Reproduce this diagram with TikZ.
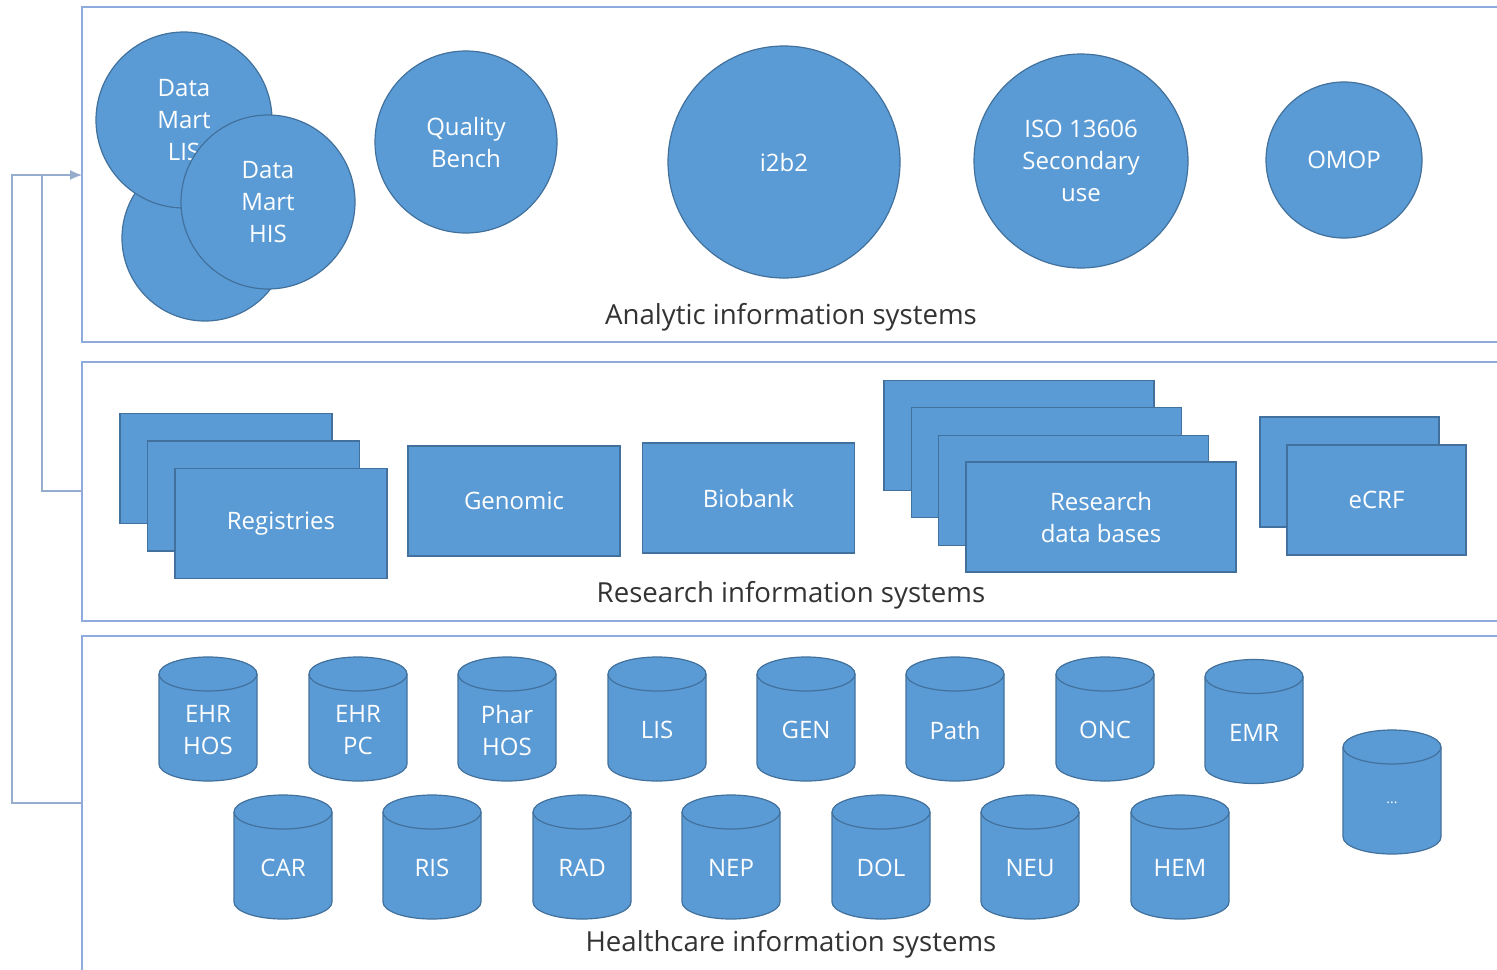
\documentclass[tikz,border=0pt]{standalone}
\usepackage{fontspec}
\setmainfont{Open Sans}
\usetikzlibrary{shapes.geometric,arrows.meta,positioning}
\definecolor{boxblue}{RGB}{91,155,213}
\definecolor{boxedge}{RGB}{65,113,156}
\definecolor{panelline}{RGB}{143,170,220}
\definecolor{linkline}{RGB}{150,172,205}
\tikzset{
  shape base/.style={fill=boxblue, draw=boxedge, line width=0.6pt, text=white,
    align=center, inner sep=0pt, font=\fontsize{12}{16}\selectfont},
  dbcirc/.style={shape base, circle},
  dbrect/.style={shape base, rectangle, minimum width=106pt, minimum height=55pt},
  cylline/.style={fill=boxblue, draw=boxedge, line width=0.6pt},
  cyllabel/.style={text=white, align=center, inner sep=0pt,
    font=\fontsize{12}{16}\selectfont},
  panel/.style={draw=panelline, line width=0.7pt, anchor=north west,
    inner sep=0pt, outer sep=0pt, minimum width=714pt},
  paneltitle/.style={text=black!80, font=\fontsize{13.8}{16}\selectfont},
  link/.style={draw=linkline, line width=0.6pt}
}
% database drum: name, x, y (centre), label
\newcommand{\dbdrum}[4]{%
  \filldraw[cylline] (#2-49,#3-45) -- (#2-49,#3+45)
    arc[start angle=180, end angle=0, x radius=49, y radius=17]
    -- (#2+49,#3-45)
    arc[start angle=0, end angle=-180, x radius=49, y radius=17] -- cycle;
  \draw[cylline, fill=none] (#2-49,#3-45)
    arc[start angle=180, end angle=0, x radius=49, y radius=17];
  \node[cyllabel] (#1) at (#2,#3+11) {#4};
}
\begin{document}
\begin{tikzpicture}[x=0.5pt,y=-0.5pt]
  \useasboundingbox[fill=white] (0,0) rectangle (1497,969);
  % the three layers
  \node[panel, minimum height=167.5pt] (aislayer) at (82,7) {};
  \node[panel, minimum height=129.5pt] (rislayer) at (82,362) {};
  \node[panel, minimum height=174.5pt] (hcislayer) at (82,636) {};
  \node[paneltitle] (aistitle) at (791,317) {Analytic information systems};
  \node[paneltitle] (ristitle) at (791,595) {Research information systems};
  \node[paneltitle] (hcistitle) at (791,944) {Healthcare information systems};

  % analytic information systems
  \node[dbcirc, minimum size=83pt] (dmback) at (205,238) {};
  \node[dbcirc, minimum size=88pt] (dmlis) at (184,120) {Data\\Mart\\LIS};
  \node[dbcirc, minimum size=87pt] (dmhis) at (268,202) {Data\\Mart\\HIS};
  \node[dbcirc, minimum size=91pt] (qbench) at (466,142) {Quality\\Bench};
  \node[dbcirc, minimum size=116pt] (itwob) at (784,162) {i2b2};
  \node[dbcirc, minimum size=107pt] (iso) at (1081,161) {ISO 13606\\Secondary\\use};
  \node[dbcirc, minimum size=78pt] (omop) at (1344,160) {OMOP};

  % research information systems
  \foreach \i in {0,1}
    \node[dbrect] (reg\i) at ({226+27.5*\i},{468.5+27.5*\i}) {};
  \node[dbrect] (reg2) at (281,523.5) {Registries};
  \node[dbrect] (genomic) at (514,501) {Genomic};
  \node[dbrect] (biobank) at (748.5,498) {Biobank};
  \foreach \i in {0,1,2}
    \node[dbrect, minimum width=135pt] (rdb\i) at ({1019+27.3*\i},{435.5+27.3*\i}) {};
  \node[dbrect, minimum width=135pt] (rdb3) at (1101,517) {Research\\data bases};
  \node[dbrect, minimum width=89.5pt] (ecrf0) at (1349.5,472) {};
  \node[dbrect, minimum width=89.5pt] (ecrf1) at (1376.5,500) {eCRF};

  % healthcare information systems
  \foreach \name/\xx/\lbl in {ehrhos/208/EHR\\HOS, ehrpc/358/EHR\\PC,
      pharhos/507/Phar\\HOS, lis/657/LIS, gen/806/GEN, path/955/Path,
      onc/1105/ONC}
    {\dbdrum{\name}{\xx}{719}{\lbl}}
  \dbdrum{emr}{1254}{721.5}{EMR}
  \foreach \name/\xx/\lbl in {car/283/CAR, ris/432/RIS, rad/582/RAD,
      nep/731/NEP, dol/881/DOL, neu/1030/NEU, hem/1180/HEM}
    {\dbdrum{\name}{\xx}{857}{\lbl}}
  \dbdrum{more}{1392}{792}{\fontsize{7}{8}\selectfont ...}

  % feedback lines into the analytic layer
  \coordinate (hcisout) at (hcislayer.north west |- 0,803);
  \coordinate (risout) at (rislayer.north west |- 0,491);
  \coordinate (aisin) at (aislayer.north west |- 0,175);
  \draw[link, -{Latex[length=6pt,width=5pt]}] (hcisout) -- ++(-70,0) |- (aisin);
  \draw[link] (risout) -| ([xshift=-20pt]aisin);
\end{tikzpicture}
\end{document}
